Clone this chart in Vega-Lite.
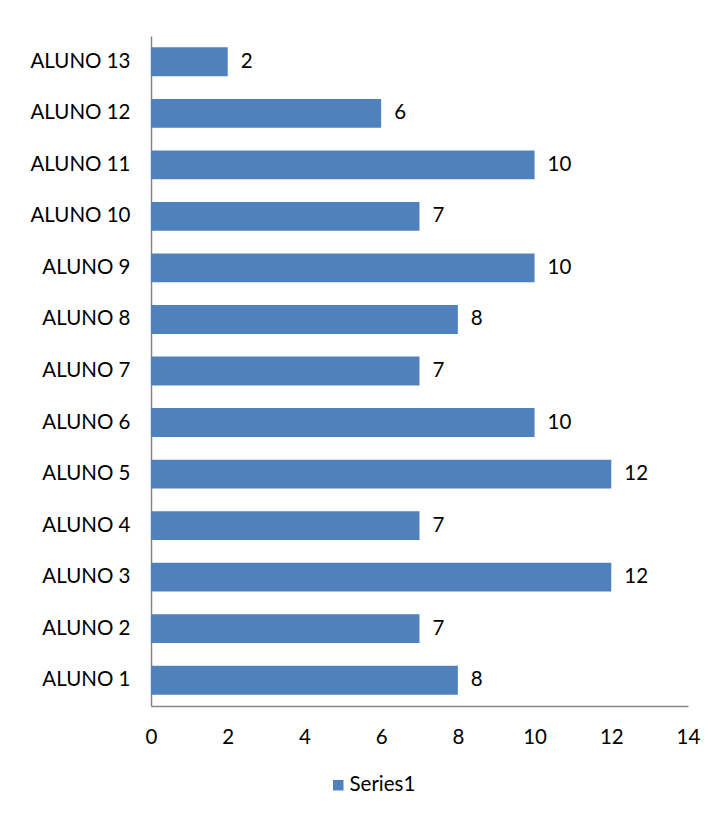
{
  "$schema": "https://vega.github.io/schema/vega-lite/v6.json",
  "autosize": "none",
  "width": 537,
  "height": 670,
  "padding": {"left": 151, "top": 36, "right": 24, "bottom": 108},
  "background": "white",
  "config": {
    "view": {"stroke": null},
    "font": "Lato",
    "axis": {"labelFont": "Lato", "labelFontSize": 20.5, "labelColor": "#000000", "domainColor": "#868686", "domainWidth": 1.5, "ticks": false, "grid": false, "title": null}
  },
  "data": {"values": [
    {"name": "ALUNO 1", "value": 8, "series": "Series1"},
    {"name": "ALUNO 2", "value": 7, "series": "Series1"},
    {"name": "ALUNO 3", "value": 12, "series": "Series1"},
    {"name": "ALUNO 4", "value": 7, "series": "Series1"},
    {"name": "ALUNO 5", "value": 12, "series": "Series1"},
    {"name": "ALUNO 6", "value": 10, "series": "Series1"},
    {"name": "ALUNO 7", "value": 7, "series": "Series1"},
    {"name": "ALUNO 8", "value": 8, "series": "Series1"},
    {"name": "ALUNO 9", "value": 10, "series": "Series1"},
    {"name": "ALUNO 10", "value": 7, "series": "Series1"},
    {"name": "ALUNO 11", "value": 10, "series": "Series1"},
    {"name": "ALUNO 12", "value": 6, "series": "Series1"},
    {"name": "ALUNO 13", "value": 2, "series": "Series1"}
  ]},
  "encoding": {
    "y": {
      "field": "name", "type": "nominal",
      "sort": ["ALUNO 13","ALUNO 12","ALUNO 11","ALUNO 10","ALUNO 9","ALUNO 8","ALUNO 7","ALUNO 6","ALUNO 5","ALUNO 4","ALUNO 3","ALUNO 2","ALUNO 1"],
      "scale": {"paddingInner": 0.44, "paddingOuter": 0.22},
      "axis": {"labelPadding": 21, "domain": true}
    },
    "x": {
      "field": "value", "type": "quantitative",
      "scale": {"domain": [0, 14], "nice": false},
      "axis": {"values": [0,2,4,6,8,10,12,14], "labelPadding": 21, "labelFlush": false}
    }
  },
  "layer": [
    {
      "mark": {"type": "bar", "color": "#4F81BD"},
      "encoding": {
        "color": {"field": "series", "type": "nominal", "scale": {"range": ["#4F81BD"]},
          "legend": {"orient": "none", "legendX": 177, "legendY": 739, "title": null, "symbolType": "square", "symbolSize": 110, "labelOffset": 1, "labelFont": "Lato", "labelFontSize": 20.5, "labelColor": "#000000", "symbolStrokeWidth": 0}}
      }
    },
    {
      "mark": {"type": "text", "align": "left", "baseline": "middle", "dx": 13, "font": "Lato", "fontSize": 20.5, "color": "#000000"},
      "encoding": {"text": {"field": "value", "type": "quantitative"}}
    }
  ]
}
